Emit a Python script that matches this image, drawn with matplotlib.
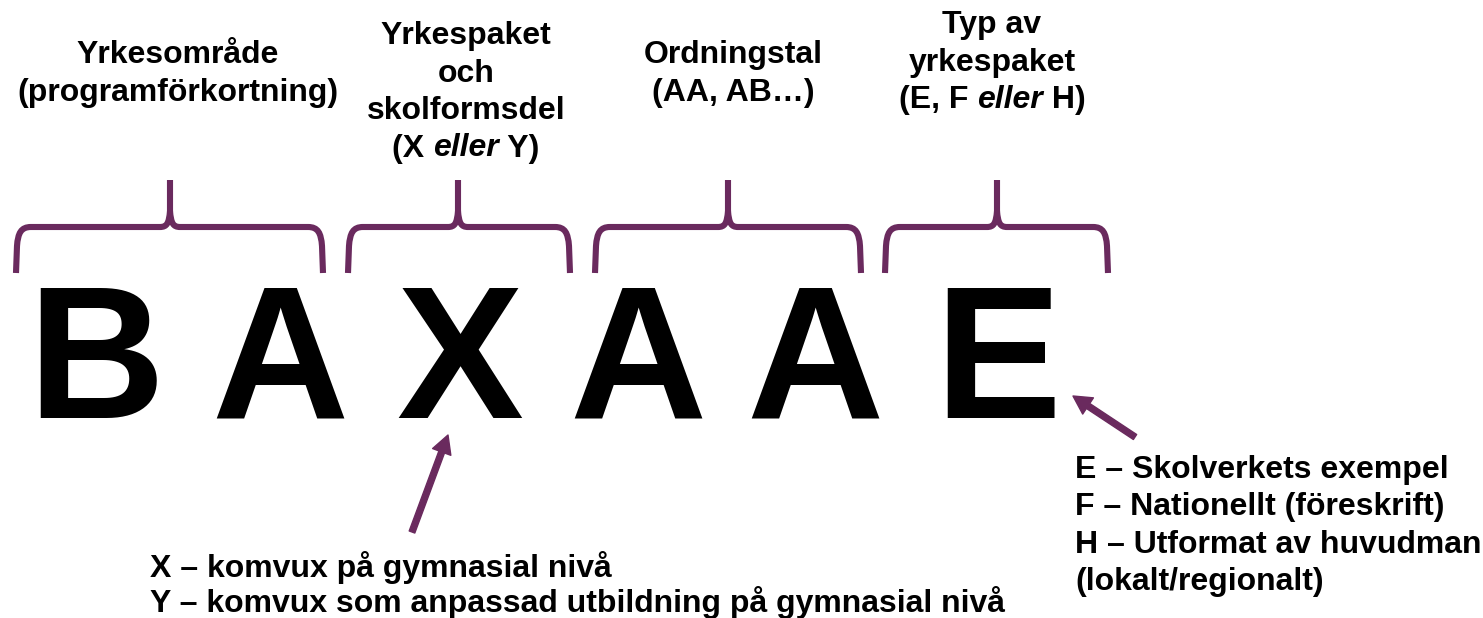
"""
Kodstruktur för yrkespaket - förklaring av BAXAAE
"""

import matplotlib
matplotlib.use('Agg')
import matplotlib.pyplot as plt
from matplotlib.path import Path
from matplotlib.patches import PathPatch, FancyArrowPatch

plt.rcParams['font.family'] = ['Liberation Sans', 'DejaVu Sans']

PURPLE = '#6a2a5e'

# the code itself, one big letter each
code_letters = ['B', 'A', 'X', 'A', 'A', 'E']
letter_x = [96, 280, 460, 638, 815, 998]

# headers above the braces (*...* = italic part)
headers = [
    ['Yrkesområde', '(programförkortning)'],
    ['Yrkespaket', 'och', 'skolformsdel', '(X *eller* Y)'],
    ['Ordningstal', '(AA, AB…)'],
    ['Typ av', 'yrkespaket', '(E, F *eller* H)'],
]
header_x = [178, 466, 733, 992]
header_top = [63, 44, 63, 33]

# braces: (left, centre, right)
braces = [(16, 170, 323), (348, 458, 570), (595, 728, 861), (885, 997, 1108)]

# explanations below
x_notes = ['X – komvux på gymnasial nivå',
           'Y – komvux som anpassad utbildning på gymnasial nivå']
type_notes = ['E – Skolverkets exempel',
              'F – Nationellt (föreskrift)',
              'H – Utformat av huvudman',
              '(lokalt/regionalt)']

LINE_H = 37.5
FS = 23


def draw_mixed(ax, renderer, xc, y, line, fs):
    """Centered line where *...* parts are italic."""
    parts = line.split('*')
    widths = []
    texts = []
    for i, p in enumerate(parts):
        style = 'italic' if i % 2 else 'normal'
        weight = 'bold'
        t = ax.text(0, y, p, fontsize=fs, fontweight=weight, fontstyle=style,
                    ha='left', va='baseline')
        bb = t.get_window_extent(renderer)
        widths.append(bb.width)
        texts.append(t)
    x = xc - sum(widths) / 2
    for t, w in zip(texts, widths):
        t.set_x(x)
        x += w


def draw_brace(ax, x0, xc, x1, y_bot=273, y_mid=227, y_top=180):
    v = [
        (x0, y_bot), (x0 + 1, 246),
        (x0 + 2, 233), (x0 + 5, y_mid), (x0 + 15, y_mid),
        (xc - 10, y_mid),
        (xc - 3, y_mid), (xc - 1, y_mid - 4), (xc, y_mid - 16),
        (xc, y_top),
        (xc, y_mid - 16),
        (xc + 1, y_mid - 4), (xc + 3, y_mid), (xc + 10, y_mid),
        (x1 - 15, y_mid),
        (x1 - 5, y_mid), (x1 - 2, 233), (x1 - 1, 246),
        (x1, y_bot),
    ]
    c = [Path.MOVETO, Path.LINETO,
         Path.CURVE4, Path.CURVE4, Path.CURVE4,
         Path.LINETO,
         Path.CURVE4, Path.CURVE4, Path.CURVE4,
         Path.LINETO,
         Path.MOVETO,
         Path.CURVE4, Path.CURVE4, Path.CURVE4,
         Path.LINETO,
         Path.CURVE4, Path.CURVE4, Path.CURVE4,
         Path.LINETO]
    ax.add_patch(PathPatch(Path(v, c), fill=False, edgecolor=PURPLE,
                           linewidth=4.4, capstyle='butt', joinstyle='round'))


def arrow(ax, start, end):
    a = FancyArrowPatch(start, end,
                        arrowstyle='simple,head_length=13,head_width=14,tail_width=4.3',
                        mutation_scale=1, color=PURPLE, shrinkA=0, shrinkB=0)
    ax.add_patch(a)


fig = plt.figure(figsize=(14.83, 6.18), dpi=100)
ax = fig.add_axes([0, 0, 1, 1])
ax.set_xlim(0, 1483)
ax.set_ylim(618, 0)
ax.axis('off')
renderer = fig.canvas.get_renderer()

for ch, x in zip(code_letters, letter_x):
    ax.text(x, 418, ch, fontsize=137, fontweight='bold', ha='center', va='baseline')

for lines, xc, y0 in zip(headers, header_x, header_top):
    for i, line in enumerate(lines):
        draw_mixed(ax, renderer, xc, y0 + i * LINE_H, line, FS)

for x0, xc, x1 in braces:
    draw_brace(ax, x0, xc, x1)

arrow(ax, (412, 532), (448, 435))
arrow(ax, (1135, 437), (1073, 396))

for i, line in enumerate(x_notes):
    ax.text(150, 577 + i * 35, line, fontsize=FS, fontweight='bold',
            ha='left', va='baseline')

for i, line in enumerate(type_notes):
    ax.text(1075, 478 + i * 37.3, line, fontsize=FS, fontweight='bold',
            ha='left', va='baseline')

fig.savefig('out.png', dpi=100)
